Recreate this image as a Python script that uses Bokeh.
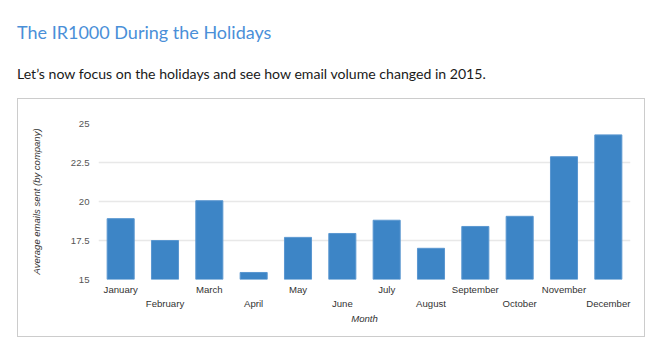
from bokeh.plotting import figure
from bokeh.models import (Range1d, FixedTicker, FactorRange, CategoricalAxis, Div)
from bokeh.layouts import column
from bokeh.embed import file_html
from bokeh.resources import INLINE

months = ["January", "February", "March", "April", "May", "June", "July",
          "August", "September", "October", "November", "December"]
emails = [18.9, 17.5, 20.05, 15.45, 17.7, 17.95, 18.8, 17.0, 18.4, 19.05, 22.87, 24.27]
y_ticks = [15, 17.5, 20, 22.5, 25]
y_tick_labels = {15: "15", 17.5: "17.5", 20: "20", 22.5: "22.5", 25: "25"}
title_text = "The IR1000 During the Holidays"
subtitle_text = "Let\u2019s now focus on the holidays and see how email volume changed in 2015."

header = Div(
    width=665, height=98, margin=(0, 0, 0, 0),
    text=(
        '<div style="position:relative;width:665px;height:98px;">'
        '<div style="position:absolute;left:17px;top:22.5px;font-family:Lato;font-size:18px;'
        'line-height:1;color:#4a8fd8;white-space:nowrap;">' + title_text + '</div>'
        '<div style="position:absolute;left:17px;top:66.5px;font-family:Lato;font-size:14.1px;'
        'line-height:1;color:#1a1a1a;white-space:nowrap;">' + subtitle_text + '</div>'
        '</div>'
    ),
)

FW, FH = 628, 239
p = figure(width=FW, height=FH, x_range=months, y_range=Range1d(15, 25),
           output_backend="svg", toolbar_location=None,
           min_border_left=80, min_border_right=16, min_border_top=24,
           min_border_bottom=59, x_axis_location=None,
           margin=(0, 0, 0, 17), styles={"border": "1px solid #cccccc"})
p.outline_line_color = None
p.background_fill_color = "white"
p.border_fill_color = "white"

p.vbar(x=months, top=emails, bottom=15, width=0.61,
       fill_color="#3d85c6", line_color="#5a97d0", line_width=1)

# y axis
p.yaxis.ticker = FixedTicker(ticks=y_ticks)
p.yaxis.major_label_overrides = y_tick_labels
p.yaxis.axis_line_color = None
p.yaxis.major_tick_line_color = None
p.yaxis.minor_tick_line_color = None
p.yaxis.major_tick_out = 0
p.yaxis.major_tick_in = 0
p.yaxis.major_label_text_font = "Liberation Sans"
p.yaxis.major_label_text_font_size = "9.6px"
p.yaxis.major_label_text_color = "#555555"
p.yaxis.major_label_standoff = 9
p.yaxis.axis_label = "Average emails sent (by company)"
p.yaxis.axis_label_text_font = "Liberation Sans"
p.yaxis.axis_label_text_font_style = "italic"
p.yaxis.axis_label_text_font_size = "9.5px"
p.yaxis.axis_label_text_color = "#333333"
p.yaxis.axis_label_standoff = 26
p.ygrid.grid_line_color = "#e8e8e8"
p.ygrid.grid_line_width = 1.5
p.xgrid.grid_line_color = None

# staggered month labels: two category axes whose blank slots are unique whitespace factors
odd_row = [m if i % 2 == 0 else " " * (i + 1) for i, m in enumerate(months)]
even_row = [m if i % 2 == 1 else " " * (i + 1) for i, m in enumerate(months)]
p.extra_x_ranges = {"row1": FactorRange(factors=odd_row),
                    "row2": FactorRange(factors=even_row)}

def make_axis(range_name, standoff):
    ax = CategoricalAxis(x_range_name=range_name)
    ax.axis_line_color = None
    ax.major_tick_line_color = None
    ax.minor_tick_line_color = None
    ax.major_tick_out = 0
    ax.major_tick_in = 0
    ax.major_label_text_font = "Liberation Sans"
    ax.major_label_text_font_size = "9.6px"
    ax.major_label_text_color = "#333333"
    ax.major_label_standoff = standoff
    ax.major_label_orientation = "horizontal"
    return ax

ax1 = make_axis("row1", 4)
ax2 = make_axis("row2", 0)
ax2.axis_label = "Month"
ax2.axis_label_text_font = "Liberation Sans"
ax2.axis_label_text_font_style = "italic"
ax2.axis_label_text_font_size = "9.6px"
ax2.axis_label_text_color = "#333333"
ax2.axis_label_standoff = 1
p.add_layout(ax1, "below")
p.add_layout(ax2, "below")

layout = column(header, p, margin=(0, 0, 0, 0), spacing=0)
open("out.html", "w").write(file_html(layout, INLINE))
